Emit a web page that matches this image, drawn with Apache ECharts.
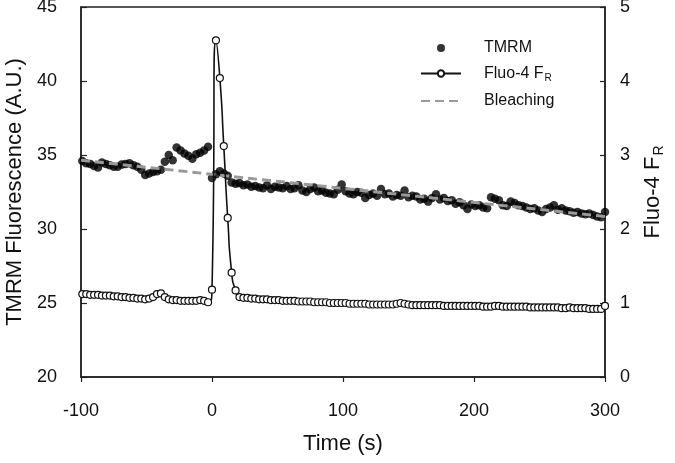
<!DOCTYPE html>
<html>
<head>
<meta charset="utf-8">
<script src="https://cdn.jsdelivr.net/npm/echarts@6/dist/echarts.min.js"></script>
<style>
html,body{margin:0;padding:0;background:#fff;}
#chart{width:675px;height:463px;}
</style>
</head>
<body>
<div id="chart"></div>
<script>
// Time points (s)
var times = [-99,-96,-93,-90,-87,-84,-81,-78,-75,-72,-69,-66,-63,-60,-57,-54,-51,-48,-45,-42,-39,-36,-33,-30,-27,-24,-21,-18,-15,-12,-9,-6,-3,
0,3,6,9,12,15,18,21,24,27,30,33,36,39,42,45,48,51,54,57,60,63,66,69,72,75,78,81,84,87,90,93,96,99,
102,105,108,111,114,117,120,123,126,129,132,135,138,141,144,147,150,153,156,159,162,165,168,171,174,177,180,183,186,189,192,195,198,
201,204,207,210,213,216,219,222,225,228,231,234,237,240,243,246,249,252,255,258,261,264,267,270,273,276,279,282,285,288,291,294,297,300];

// TMRM fluorescence (A.U.) – left axis
var tmrm = [34.60,34.45,34.40,34.25,34.15,34.50,34.40,34.30,34.20,34.20,34.35,34.40,34.45,34.30,34.20,34.00,33.65,33.75,33.85,33.90,34.00,34.55,35.00,34.65,35.50,35.30,35.10,34.95,34.75,35.05,35.15,35.30,35.55,
33.45,33.70,33.90,33.75,33.60,33.15,33.05,33.10,32.95,33.00,32.85,32.90,32.80,32.75,32.95,32.70,32.85,32.80,32.75,32.90,32.70,32.75,32.95,32.60,32.50,32.70,32.80,32.55,32.60,32.45,32.40,32.35,32.65,33.00,
32.55,32.40,32.35,32.50,32.45,32.10,32.30,32.40,32.25,32.70,32.35,32.40,32.20,32.30,32.25,32.60,32.15,32.25,32.20,32.00,32.05,31.85,32.10,32.35,32.00,32.10,31.90,31.95,31.70,31.80,31.60,31.35,31.65,
31.55,31.60,31.45,31.40,32.15,32.05,31.95,31.60,31.55,31.85,31.75,31.60,31.55,31.45,31.35,31.40,31.25,31.15,31.35,31.45,31.60,31.30,31.40,31.25,31.20,31.10,31.15,31.05,31.00,31.05,30.95,30.85,30.80,31.15];

// Fluo-4 F_R – right axis
var fluo = [1.12,1.12,1.11,1.11,1.11,1.10,1.10,1.10,1.09,1.09,1.08,1.08,1.07,1.07,1.06,1.06,1.05,1.06,1.08,1.12,1.13,1.08,1.05,1.04,1.04,1.03,1.03,1.03,1.03,1.03,1.04,1.03,1.01,
1.18,4.55,4.04,3.12,2.15,1.41,1.17,1.08,1.07,1.07,1.06,1.06,1.05,1.05,1.05,1.04,1.04,1.04,1.03,1.03,1.03,1.03,1.02,1.02,1.02,1.02,1.01,1.01,1.01,1.01,1.00,1.00,1.00,1.00,
1.00,0.99,0.99,0.99,0.99,0.99,0.98,0.98,0.98,0.98,0.98,0.98,0.98,0.99,1.00,0.99,0.98,0.97,0.97,0.97,0.97,0.97,0.97,0.97,0.97,0.96,0.96,0.96,0.96,0.96,0.96,0.96,0.96,
0.96,0.96,0.95,0.95,0.95,0.96,0.96,0.95,0.95,0.95,0.95,0.95,0.95,0.95,0.94,0.94,0.94,0.94,0.94,0.94,0.94,0.94,0.93,0.93,0.94,0.93,0.93,0.93,0.93,0.92,0.92,0.92,0.92,0.96];

// Bleaching fit line (endpoints)
var bleachTimes = [-100, 300];
var bleachValues = [34.65, 30.84];

// Axis ticks
var xTicks = [-100, 0, 100, 200, 300];
var leftTicks = [20, 25, 30, 35, 40, 45];
var rightTicks = [0, 1, 2, 3, 4, 5];

function zip(a, b) { return a.map(function (v, i) { return [v, b[i]]; }); }

var FONT = '"Liberation Sans", Arial, sans-serif';
var chart = echarts.init(document.getElementById('chart'), null, {renderer: 'canvas'});
chart.setOption({
  animation: false,
  backgroundColor: '#fff',
  grid: {left: 81, right: 70, top: 7, bottom: 86, show: true, borderColor: '#222', borderWidth: 1.5,
    backgroundColor: 'transparent', containLabel: false, outerBoundsMode: 'none'},
  legend: {
    orient: 'vertical', left: 420, top: 40, padding: 0,
    itemWidth: 40, itemHeight: 8, itemGap: 9.5,
    data: [
      {name: 'TMRM', icon: 'circle', itemStyle: {color: '#000'}},
      {name: 'Fluo-4 FR'},
      {name: 'Bleaching', itemStyle: {color: 'transparent', borderWidth: 0}}
    ],
    formatter: function (name) {
      if (name === 'Fluo-4 FR') return '{a|Fluo-4 F}{s|R}';
      return '{a|' + name + '}';
    },
    textStyle: {
      fontFamily: FONT, fontSize: 16, color: '#111', padding: [0, 0, 0, 18],
      rich: {
        a: {fontFamily: FONT, fontSize: 16, color: '#111', lineHeight: 16},
        s: {fontFamily: FONT, fontSize: 10, color: '#111', padding: [10, 0, 0, 1]}
      }
    }
  },
  xAxis: {
    type: 'value', min: xTicks[0], max: xTicks[xTicks.length - 1], interval: 100,
    name: 'Time (s)', nameLocation: 'middle', nameGap: 56,
    nameTextStyle: {fontFamily: FONT, fontSize: 22, color: '#111'},
    axisLine: {show: true, onZero: false, lineStyle: {color: '#222', width: 1.5}},
    axisTick: {show: true, inside: false, length: 5, lineStyle: {color: '#222', width: 1.2}},
    axisLabel: {fontFamily: FONT, fontSize: 18, color: '#111', margin: 25},
    splitLine: {show: false}
  },
  yAxis: [{
    type: 'value', min: leftTicks[0], max: leftTicks[leftTicks.length - 1], interval: 5, position: 'left',
    name: 'TMRM Fluorescence (A.U.)', nameLocation: 'middle', nameGap: 50, nameRotate: 90,
    nameTextStyle: {fontFamily: FONT, fontSize: 22, color: '#111'},
    axisLine: {show: true, onZero: false, lineStyle: {color: '#222', width: 1.5}},
    axisTick: {show: true, inside: true, length: 6, lineStyle: {color: '#222', width: 1.2}},
    axisLabel: {fontFamily: FONT, fontSize: 18, color: '#111', margin: 24, padding: [4, 0, 0, 0]},
    splitLine: {show: false}
  }, {
    type: 'value', min: rightTicks[0], max: rightTicks[rightTicks.length - 1], interval: 1, position: 'right',
    name: '{a|Fluo-4 F}{s|R}', nameLocation: 'middle', nameGap: 35, nameRotate: 90,
    nameTextStyle: {fontFamily: FONT, fontSize: 22, color: '#111',
      rich: {
        a: {fontFamily: FONT, fontSize: 22, color: '#111'},
        s: {fontFamily: FONT, fontSize: 14, color: '#111', padding: [12, 0, 0, 1]}
      }},
    axisLine: {show: true, onZero: false, lineStyle: {color: '#222', width: 1.5}},
    axisTick: {show: true, inside: true, length: 5, lineStyle: {color: '#222', width: 1.2}},
    axisLabel: {fontFamily: FONT, fontSize: 18, color: '#111', margin: 15, padding: [4, 0, 0, 0]},
    splitLine: {show: false}
  }],
  series: [{
    name: 'TMRM', type: 'scatter', yAxisIndex: 0, z: 2,
    data: zip(times, tmrm), symbol: 'circle', symbolSize: 8.5,
    itemStyle: {color: '#000'}
  }, {
    name: 'Bleaching', type: 'line', yAxisIndex: 0, z: 3,
    data: zip(bleachTimes, bleachValues), symbol: 'none',
    itemStyle: {color: '#999'},
    lineStyle: {color: '#999', width: 3, type: [9, 5]}
  }, {
    name: 'Fluo-4 FR', type: 'line', yAxisIndex: 1, z: 4,
    data: zip(times, fluo), smooth: 0.7,
    symbol: 'circle', symbolSize: 7, showSymbol: true,
    itemStyle: {color: '#fff', borderColor: '#111', borderWidth: 1.2},
    lineStyle: {color: '#111', width: 1.6}
  }]
});
</script>
</body>
</html>
